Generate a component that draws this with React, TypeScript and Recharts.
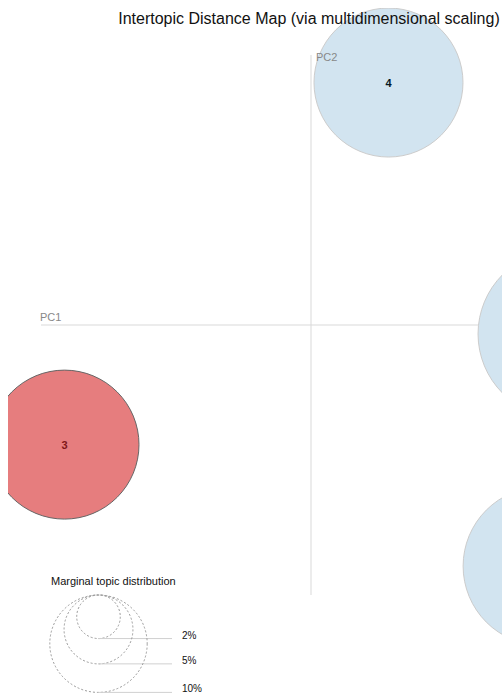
import React from 'react';
import { ScatterChart, Scatter, XAxis, YAxis, ReferenceLine } from 'recharts';

// topic positions on the first two principal coordinates
const topics = ['1', '2', '3', '4'];
const pc1 = [0.929, 0.857, -0.913, 0.287];
const pc2 = [-0.033, -0.893, -0.443, 0.898];
// marginal topic distribution, in %
const shares = [29.6, 26.5, 23.4, 23.4];
const selectedTopic = '3';

const legendShares = [2, 5, 10];
const legendLabels = ['2%', '5%', '10%'];

const FONT = '"Liberation Sans", Arial, Helvetica, sans-serif';

// circle area proportional to the share
const radius = (p: number) => 15.4 * Math.sqrt(p);

const data = topics.map((t, i) => ({ topic: t, x: pc1[i], y: pc2[i], share: shares[i] }));

const TopicCircle = (props: any) => {
  const { cx, cy, payload } = props;
  const on = payload.topic === selectedTopic;
  return (
    <g>
      <circle
        cx={cx}
        cy={cy}
        r={radius(payload.share)}
        fill={on ? '#e67d7e' : '#d2e4f0'}
        stroke={on ? '#666666' : '#cccccc'}
        strokeWidth={1}
      />
      <text
        x={cx}
        y={cy}
        dy={4}
        textAnchor="middle"
        fontSize={11}
        fontWeight="bold"
        fill={on ? '#801718' : '#061824'}
      >
        {payload.topic}
      </text>
    </g>
  );
};

const Legend = () => {
  const cx = 98.5;
  const top = 595;
  return (
    <g>
      <text x={51} y={585} fontSize={11} fill="#111">Marginal topic distribution</text>
      {legendShares.map((p, i) => {
        const r = radius(p);
        const bottom = top + 2 * r;
        return (
          <g key={p}>
            <circle cx={cx} cy={top + r} r={r} fill="none" stroke="#999" strokeDasharray="2 2" />
            <line x1={cx} x2={172} y1={bottom} y2={bottom} stroke="#d0d0d0" />
            <text x={182} y={bottom} fontSize={10} fill="#111">{legendLabels[i]}</text>
          </g>
        );
      })}
    </g>
  );
};

export default function App() {
  return (
    <div style={{ fontFamily: FONT }}>
      <div style={{ position: 'absolute', left: 8, top: 8, width: 494, height: 690, overflow: 'hidden' }}>
        <ScatterChart width={600} height={690} margin={{ top: 47, left: 33, right: 27, bottom: 103 }}>
          <XAxis type="number" dataKey="x" domain={[-1, 1]} hide />
          <YAxis type="number" dataKey="y" domain={[-1, 1]} hide />
          <ReferenceLine x={0} stroke="#d9d9d9" />
          <ReferenceLine y={0} stroke="#d9d9d9" />
          <Scatter data={data} shape={TopicCircle} isAnimationActive={false} />
        </ScatterChart>
      </div>
      <svg
        width={502}
        height={698}
        style={{ position: 'absolute', left: 0, top: 0, pointerEvents: 'none', fontFamily: FONT }}
      >
        <text x={309} y={24} textAnchor="middle" fontSize={16} fill="#111">
          Intertopic Distance Map (via multidimensional scaling)
        </text>
        <text x={316} y={61} fontSize={11} fill="#888">PC2</text>
        <text x={40} y={321} fontSize={11} fill="#888">PC1</text>
        <Legend />
      </svg>
    </div>
  );
}
